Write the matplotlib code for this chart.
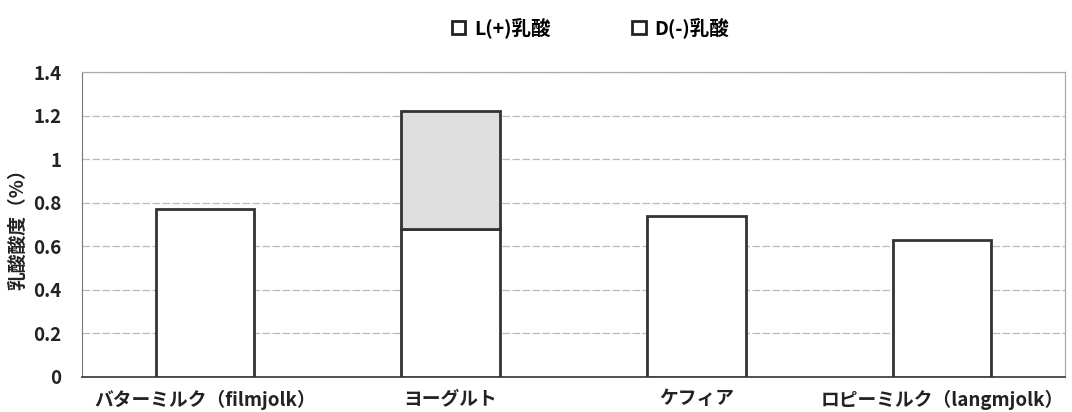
import matplotlib
matplotlib.use("Agg")
import matplotlib.pyplot as plt
import numpy as np

plt.rcParams['font.family'] = ['Noto Sans CJK JP', 'DejaVu Sans']

categories = ["バターミルク（filmjolk）", "ヨーグルト", "ケフィア", "ロピーミルク（langmjolk）"]
l_lactic = [0.77, 0.68, 0.74, 0.63]
d_lactic = [0.0, 0.54, 0.0, 0.0]
series_names = ["L(+)乳酸", "D(-)乳酸"]
yticks = [0, 0.2, 0.4, 0.6, 0.8, 1, 1.2, 1.4]
ytick_labels = ["0", "0.2", "0.4", "0.6", "0.8", "1", "1.2", "1.4"]

fig = plt.figure(figsize=(10.72, 4.12), dpi=100)
ax = fig.add_axes([0.0765, 0.085, 0.917, 0.74])

x = np.arange(len(categories))
b1 = ax.bar(x, l_lactic, width=0.4, color="white", edgecolor="#333333", linewidth=2, zorder=3)
b2 = ax.bar(x, d_lactic, width=0.4, bottom=l_lactic, color="#dedede", edgecolor="#333333",
            linewidth=2, zorder=3)
# zero-height segments should not show an outline
for rect, v in zip(b2, d_lactic):
    if v == 0:
        rect.set_visible(False)

ax.set_xlim(-0.5, len(categories) - 0.5)
ax.set_ylim(0, 1.4)
ax.set_yticks(yticks)
ax.set_yticklabels(ytick_labels, fontsize=13.5, fontweight="bold", color="#222222")
ax.set_xticks(x)
ax.set_xticklabels(categories, fontsize=13.5, fontweight="bold", color="#222222")
ax.tick_params(axis="y", length=0, pad=15)
ax.tick_params(axis="x", length=0, pad=9)

ax.yaxis.grid(True, color="#bbbbbb", linestyle=(0, (6, 2)), linewidth=0.9, zorder=0)
for side in ["top", "right"]:
    ax.spines[side].set_color("#aaaaaa")
    ax.spines[side].set_linewidth(0.9)
ax.spines["left"].set_color("#777777")
ax.spines["bottom"].set_color("#444444")
ax.spines["bottom"].set_linewidth(1.3)

ax.set_ylabel("乳酸酸度（%）", fontsize=13.5, fontweight="bold", color="#222222", labelpad=4)

leg = fig.legend([b1[0], b2[1]], series_names, loc="upper center", bbox_to_anchor=(0.551, 1.0),
                 ncol=2, frameon=False, prop={"weight": "bold", "size": 14},
                 handlelength=0.7, handleheight=0.7, handletextpad=0.45, columnspacing=4.2)
for h in leg.legend_handles:
    h.set_facecolor("white")
    h.set_edgecolor("#222222")
    h.set_linewidth(2)

fig.savefig("out.png", dpi=100)
